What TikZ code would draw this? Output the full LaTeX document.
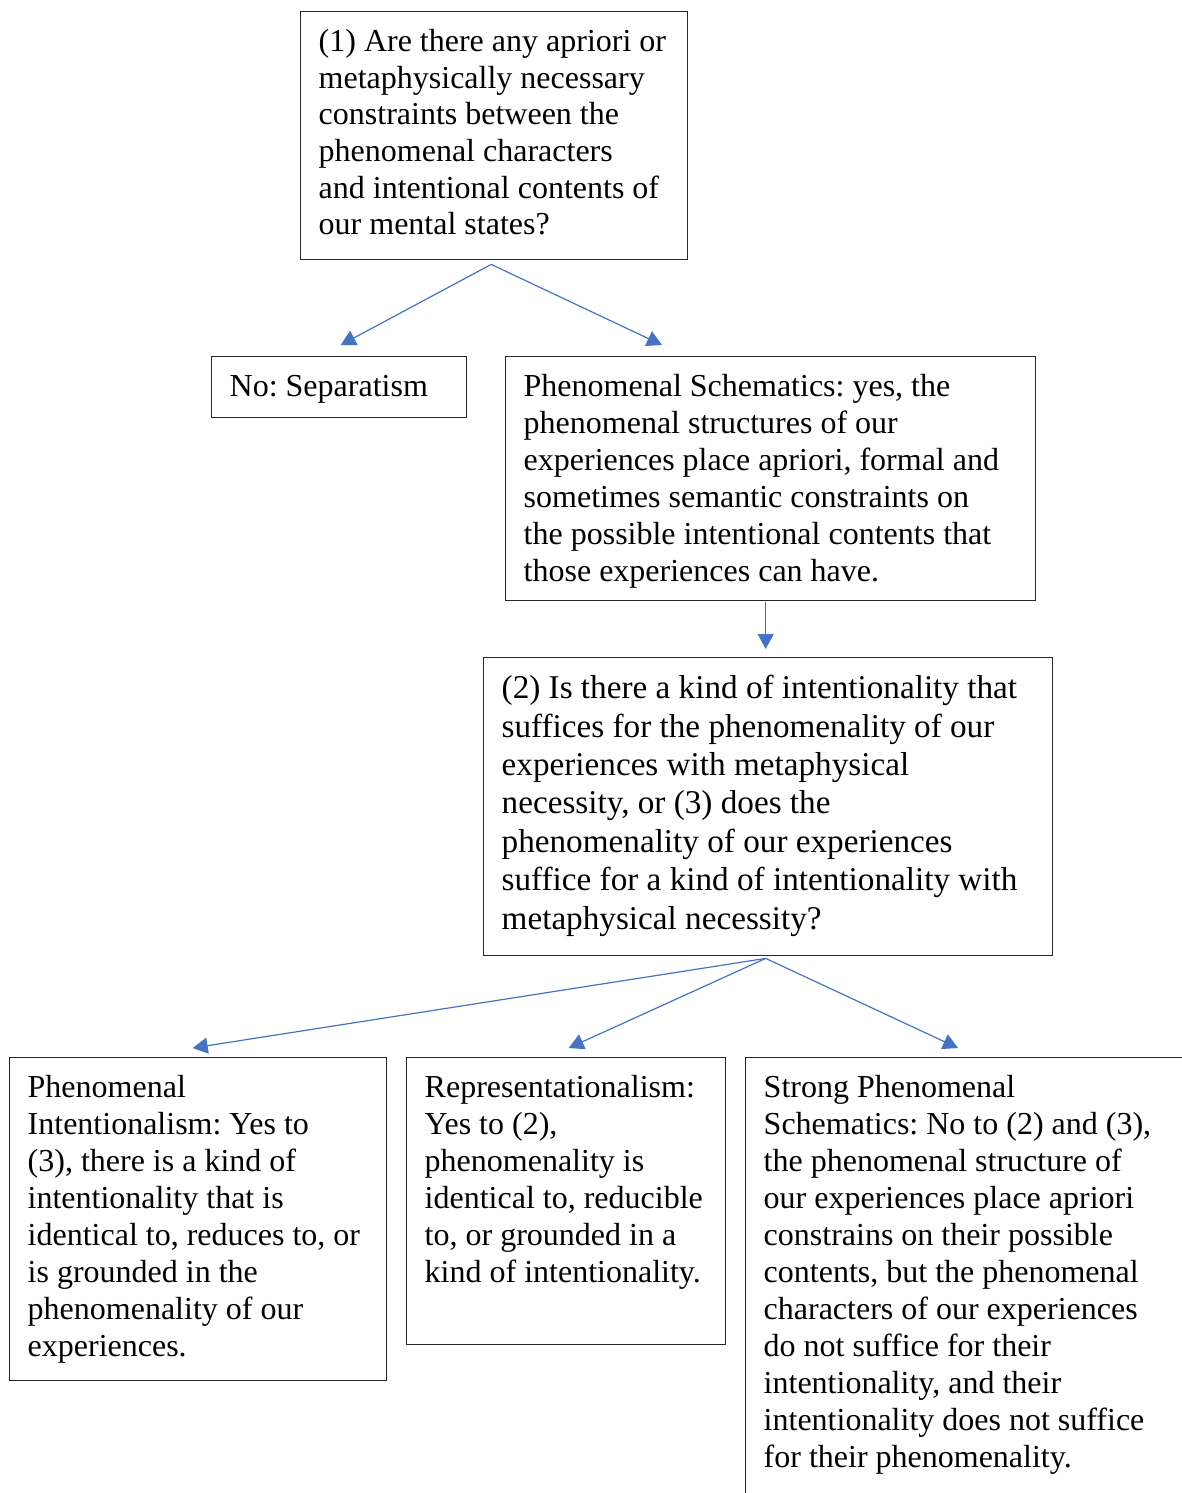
\documentclass[tikz,border=0pt]{standalone}
\usepackage{fontspec}
\setmainfont{Liberation Serif}
\frenchspacing
\usetikzlibrary{calc,arrows.meta}
\definecolor{qblue}{RGB}{68,114,196}
\tikzset{qbox/.style={draw=black!85, line width=0.7pt, rectangle, anchor=north west,
    align=flush left, inner xsep=9pt, inner ysep=0pt, text height=20pt,
    font=\fontsize{16}{18.5}\selectfont}}
\tikzset{flow/.style={-{Triangle[length=7.5pt,width=8pt]}, draw=qblue, line width=0.6pt}}

\begin{document}
\begin{tikzpicture}[x=0.5pt, y=-0.5pt]
          \useasboundingbox (0,0) rectangle (1182,1493);

          \node at (300,11) [qbox, text width=175.5pt, text depth=104pt,
            font=\fontsize{16}{18.3}\selectfont] (q1)
            {(1) Are there any apriori or\\ metaphysically necessary\\ constraints between the\\
             phenomenal characters\\ and intentional contents of\\ our mental states?};

          \node at (211,356) [qbox, text width=109.5pt, text depth=10.5pt] (sep)
            {No: Separatism};

          \node at (505,356) [qbox, text width=247pt, text depth=102pt] (ps)
            {Phenomenal Schematics: yes, the\\ phenomenal structures of our\\
             experiences place apriori, formal and\\ sometimes semantic constraints on\\
             the possible intentional contents that\\ those experiences can have.};

          \node at (483,657) [qbox, text width=266.5pt, text height=20.5pt, text depth=128.5pt,
            font=\fontsize{16.6}{19.2}\selectfont] (q2)
            {(2) Is there a kind of intentionality that\\ suffices for the phenomenality of our\\
             experiences with metaphysical\\ necessity, or (3) does the\\
             phenomenality of our experiences\\ suffice for a kind of intentionality with\\
             metaphysical necessity?};

          \node at (9,1057) [qbox, text width=170.5pt, text depth=141.5pt] (pi)
            {Phenomenal\\ Intentionalism: Yes to\\ (3), there is a kind of\\
             intentionality that is\\ identical to, reduces to, or\\ is grounded in the\\
             phenomenality of our\\ experiences.};

          \node at (406,1057) [qbox, text width=141.5pt, text depth=123.5pt] (rep)
            {Representationalism:\\ Yes to (2),\\ phenomenality is\\
             identical to, reducible\\ to, or grounded in a\\ kind of intentionality.};

          \node at (745,1057) [qbox, text width=209.5pt, text depth=206.5pt] (sps)
            {Strong Phenomenal\\ Schematics: No to (2) and (3),\\ the phenomenal structure of\\
             our experiences place apriori\\ constrains on their possible\\
             contents, but the phenomenal\\ characters of our experiences\\
             do not suffice for their\\ intentionality, and their\\
             intentionality does not suffice\\ for their phenomenality.};

          \draw[flow] ($ (q1.south) + (-3,4) $) -- ($ (sep.north) + (1.5,-11) $);
          \draw[flow] ($ (q1.south) + (-3,4) $) -- ($ (ps.north west) + (157,-11) $);
          \draw[flow] ($ (ps.south) + (-5,1) $) -- ($ (q2.north) + (-2.5,-8) $);

          \foreach \dst / \dx in {pi/-5.5, rep/2.5} {
            \draw[flow] ($ (q2.south) + (-2.5,2) $) -- ($ (\dst.north) + (\dx,-9) $);
          }
          \draw[flow] ($ (q2.south) + (-2.5,2) $) -- ($ (sps.north west) + (213,-9) $);
        \end{tikzpicture}
\end{document}
